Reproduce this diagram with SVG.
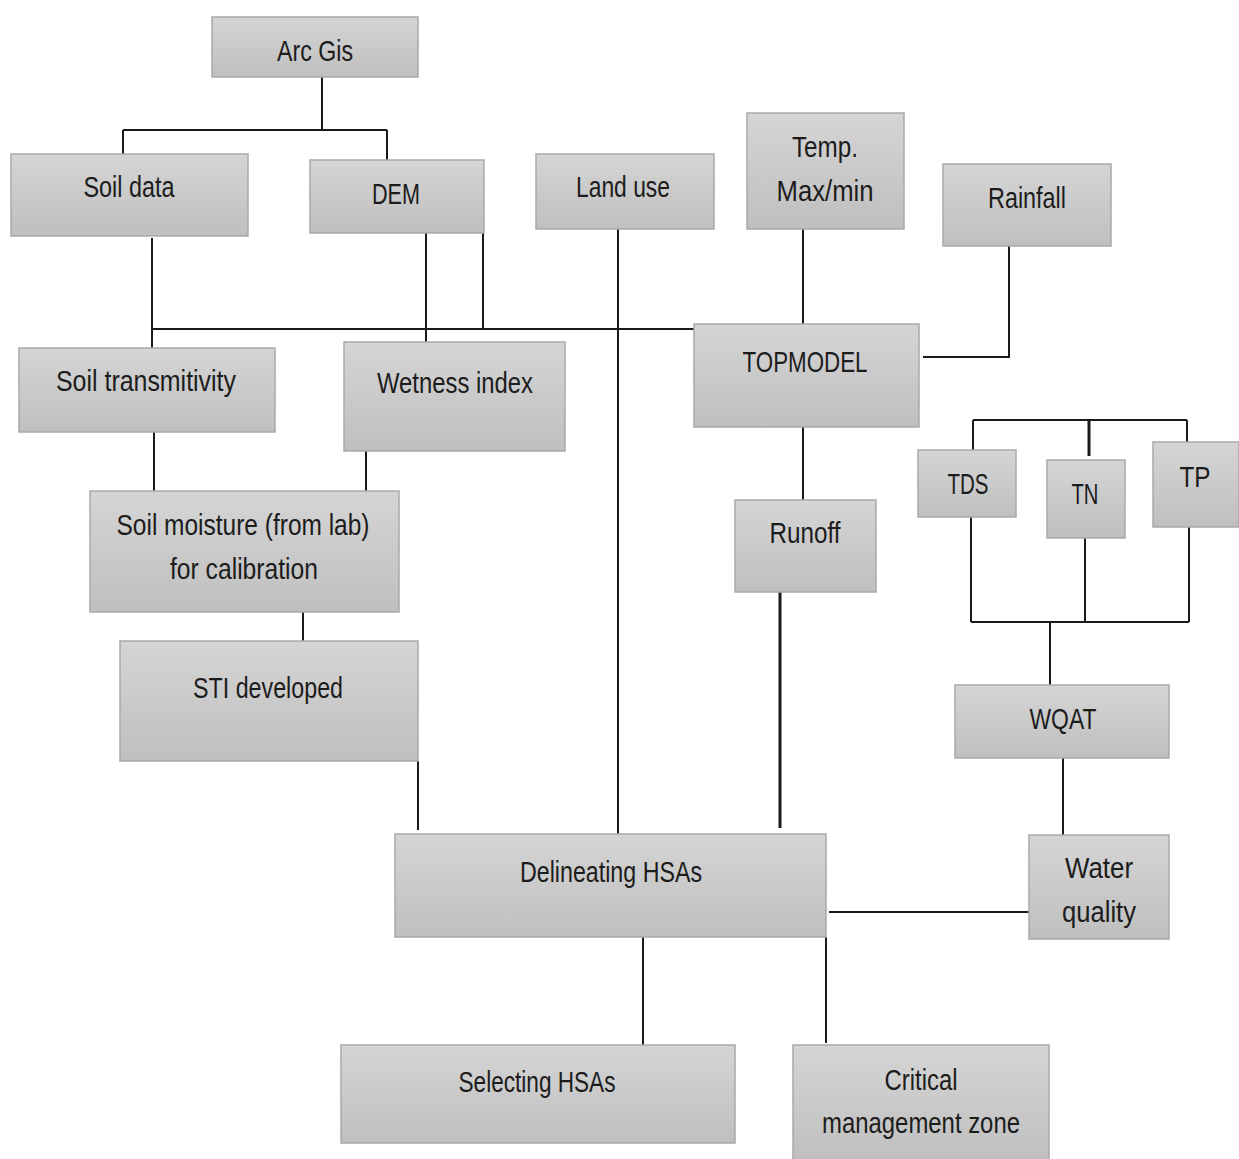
<svg xmlns="http://www.w3.org/2000/svg" width="1239" height="1159" viewBox="0 0 1239 1159">
<defs>
<linearGradient id="g" x1="0" y1="0" x2="0" y2="1">
<stop offset="0" stop-color="#d5d5d5"/>
<stop offset="1" stop-color="#bfbfbf"/>
</linearGradient>
</defs>
<style>
.box{fill:url(#g);stroke:#a9a9a9;stroke-width:1.5}
.t{font-family:"Liberation Sans",Arial,sans-serif;font-size:29px;fill:#1c1c1c;text-anchor:middle}
.c{stroke:#1a1a1a;stroke-width:2;fill:none}
.thick{stroke-width:3}
</style>
<rect width="1239" height="1159" fill="#ffffff"/>
<g id="connectors">
<path class="c" d="M322 77V130M123 130H387M123 130V154M387 130V160"/>
<path class="c" d="M152 238V348M152 329H694M426 233V342M483 233V329"/>
<path class="c" d="M618 229V834"/>
<path class="c" d="M803 229V324"/>
<path class="c" d="M1009 246V357H923"/>
<path class="c" d="M154 432V491M366 451V491"/>
<path class="c" d="M803 427V500"/>
<path class="c" d="M303 612V641"/>
<path class="c" d="M418 761V830"/>
<path class="c thick" d="M780 590V828"/>
<path class="c" d="M973 420H1187M973 420V450M1187 420V442"/>
<path class="c thick" d="M1089 420V456"/>
<path class="c" d="M971 517V622M1085 538V622M1189 527V622M971 622H1189M1050 622V685"/>
<path class="c" d="M1063 758V835"/>
<path class="c" d="M829 912H1029"/>
<path class="c" d="M643 937V1045M826 937V1043"/>
</g>
<g id="arcgis"><rect class="box" x="212" y="17" width="206" height="60"/><text class="t" x="315" y="61" textLength="76" lengthAdjust="spacingAndGlyphs">Arc Gis</text></g>
<g id="soildata"><rect class="box" x="11" y="154" width="237" height="82"/><text class="t" x="129" y="197" textLength="91" lengthAdjust="spacingAndGlyphs">Soil data</text></g>
<g id="dem"><rect class="box" x="310" y="160" width="174" height="73"/><text class="t" x="396" y="204" textLength="48" lengthAdjust="spacingAndGlyphs">DEM</text></g>
<g id="landuse"><rect class="box" x="536" y="154" width="178" height="75"/><text class="t" x="623" y="197" textLength="94" lengthAdjust="spacingAndGlyphs">Land use</text></g>
<g id="temp"><rect class="box" x="747" y="113" width="157" height="116"/><text class="t" x="825" y="157" textLength="66" lengthAdjust="spacingAndGlyphs">Temp.</text><text class="t" x="825" y="201" textLength="97" lengthAdjust="spacingAndGlyphs">Max/min</text></g>
<g id="rainfall"><rect class="box" x="943" y="164" width="168" height="82"/><text class="t" x="1027" y="208" textLength="78" lengthAdjust="spacingAndGlyphs">Rainfall</text></g>
<g id="soiltrans"><rect class="box" x="19" y="348" width="256" height="84"/><text class="t" x="146" y="391" textLength="180" lengthAdjust="spacingAndGlyphs">Soil transmitivity</text></g>
<g id="wetness"><rect class="box" x="344" y="342" width="221" height="109"/><text class="t" x="455" y="393" textLength="156" lengthAdjust="spacingAndGlyphs">Wetness index</text></g>
<g id="topmodel"><rect class="box" x="694" y="324" width="225" height="103"/><text class="t" x="805" y="372" textLength="125" lengthAdjust="spacingAndGlyphs">TOPMODEL</text></g>
<g id="soilmoisture"><rect class="box" x="90" y="491" width="309" height="121"/><text class="t" x="243" y="535" textLength="253" lengthAdjust="spacingAndGlyphs">Soil moisture (from lab)</text><text class="t" x="244" y="579" textLength="148" lengthAdjust="spacingAndGlyphs">for calibration</text></g>
<g id="runoff"><rect class="box" x="735" y="500" width="141" height="92"/><text class="t" x="805" y="543" textLength="71" lengthAdjust="spacingAndGlyphs">Runoff</text></g>
<g id="tds"><rect class="box" x="918" y="450" width="98" height="67"/><text class="t" x="968" y="494" textLength="41" lengthAdjust="spacingAndGlyphs">TDS</text></g>
<g id="tn"><rect class="box" x="1047" y="460" width="78" height="78"/><text class="t" x="1085" y="504" textLength="27" lengthAdjust="spacingAndGlyphs">TN</text></g>
<g id="tp"><rect class="box" x="1153" y="442" width="86" height="85"/><text class="t" x="1195" y="487" textLength="31" lengthAdjust="spacingAndGlyphs">TP</text></g>
<g id="sti"><rect class="box" x="120" y="641" width="298" height="120"/><text class="t" x="268" y="698" textLength="150" lengthAdjust="spacingAndGlyphs">STI developed</text></g>
<g id="wqat"><rect class="box" x="955" y="685" width="214" height="73"/><text class="t" x="1063" y="729" textLength="67" lengthAdjust="spacingAndGlyphs">WQAT</text></g>
<g id="delineating"><rect class="box" x="395" y="834" width="431" height="103"/><text class="t" x="611" y="882" textLength="182" lengthAdjust="spacingAndGlyphs">Delineating HSAs</text></g>
<g id="waterquality"><rect class="box" x="1029" y="835" width="140" height="104"/><text class="t" x="1099" y="878" textLength="68" lengthAdjust="spacingAndGlyphs">Water</text><text class="t" x="1099" y="922" textLength="74" lengthAdjust="spacingAndGlyphs">quality</text></g>
<g id="selecting"><rect class="box" x="341" y="1045" width="394" height="98"/><text class="t" x="537" y="1092" textLength="157" lengthAdjust="spacingAndGlyphs">Selecting HSAs</text></g>
<g id="critical"><rect class="box" x="793" y="1045" width="256" height="116"/><text class="t" x="921" y="1090" textLength="73" lengthAdjust="spacingAndGlyphs">Critical</text><text class="t" x="921" y="1133" textLength="198" lengthAdjust="spacingAndGlyphs">management zone</text></g>
</svg>
